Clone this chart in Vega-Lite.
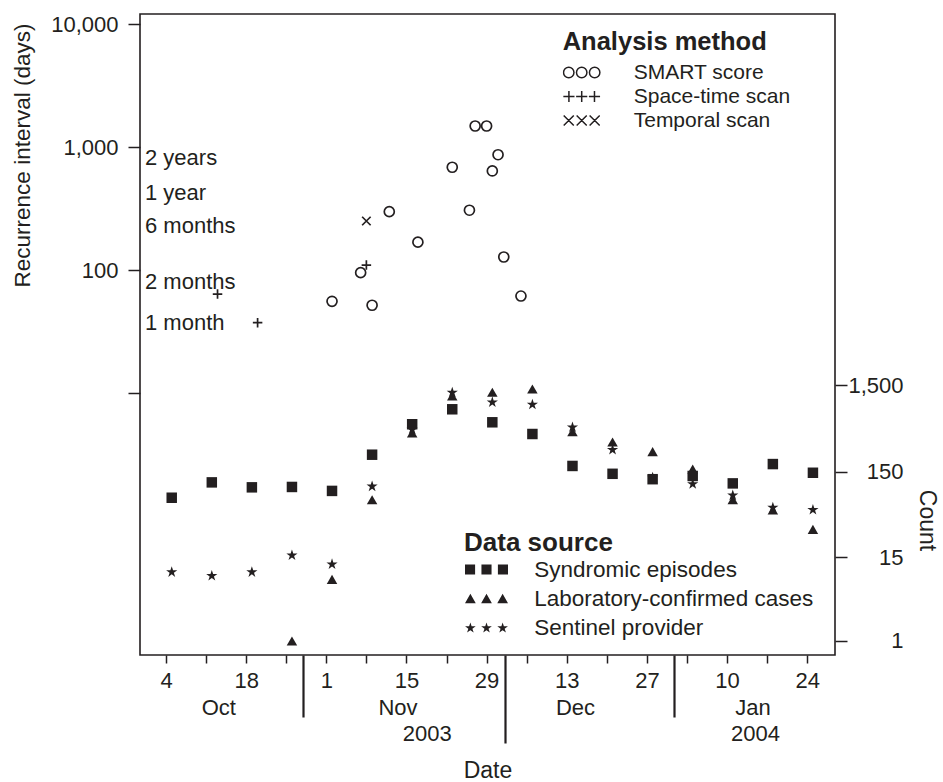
{
  "$schema": "https://vega.github.io/schema/vega-lite/v6.json",
  "width": 695,
  "height": 641,
  "autosize": {"type": "none"},
  "padding": {"left": 140, "top": 14, "right": 108, "bottom": 127},
  "background": "white",
  "config": {
    "view": {"stroke": "#231f20", "strokeWidth": 1.6},
    "font": "Liberation Sans",
    "axis": {"labelFont": "Liberation Sans", "titleFont": "Liberation Sans", "labelColor": "#231f20", "titleColor": "#231f20", "tickColor": "#231f20", "titleFontWeight": "normal", "grid": false, "domain": false},
    "legend": {"labelFont": "Liberation Sans", "titleFont": "Liberation Sans", "labelColor": "#231f20", "titleColor": "#231f20"}
  },
  "datasets": {
    "methods": [
      {"date": "2003-10-13", "method": "Space-time scan", "days": 64},
      {"date": "2003-10-20", "method": "Space-time scan", "days": 37.5},
      {"date": "2003-11-02", "method": "SMART score", "days": 55.9},
      {"date": "2003-11-07", "method": "SMART score", "days": 95.5},
      {"date": "2003-11-08", "method": "Space-time scan", "days": 110},
      {"date": "2003-11-08", "method": "Temporal scan", "days": 251},
      {"date": "2003-11-09", "method": "SMART score", "days": 51.9},
      {"date": "2003-11-12", "method": "SMART score", "days": 299},
      {"date": "2003-11-17", "method": "SMART score", "days": 169},
      {"date": "2003-11-23", "method": "SMART score", "days": 686},
      {"date": "2003-11-26", "method": "SMART score", "days": 307},
      {"date": "2003-11-27", "method": "SMART score", "days": 1484},
      {"date": "2003-11-29", "method": "SMART score", "days": 1484},
      {"date": "2003-11-30", "method": "SMART score", "days": 640},
      {"date": "2003-12-01", "method": "SMART score", "days": 867},
      {"date": "2003-12-02", "method": "SMART score", "days": 128},
      {"date": "2003-12-05", "method": "SMART score", "days": 61.7}
    ],
    "intervals": [
      {"label": "2 years", "days": 709},
      {"label": "1 year", "days": 375},
      {"label": "6 months", "days": 202},
      {"label": "2 months", "days": 71},
      {"label": "1 month", "days": 32.7}
    ],
    "sources": [
      {"date": "2003-10-05", "source": "Sentinel provider", "count": 10},
      {"date": "2003-10-12", "source": "Sentinel provider", "count": 9},
      {"date": "2003-10-19", "source": "Sentinel provider", "count": 10},
      {"date": "2003-10-26", "source": "Sentinel provider", "count": 16},
      {"date": "2003-11-02", "source": "Sentinel provider", "count": 12.5},
      {"date": "2003-11-09", "source": "Sentinel provider", "count": 103},
      {"date": "2003-11-16", "source": "Sentinel provider", "count": 467},
      {"date": "2003-11-23", "source": "Sentinel provider", "count": 1247},
      {"date": "2003-11-30", "source": "Sentinel provider", "count": 964},
      {"date": "2003-12-07", "source": "Sentinel provider", "count": 907},
      {"date": "2003-12-14", "source": "Sentinel provider", "count": 496},
      {"date": "2003-12-21", "source": "Sentinel provider", "count": 273},
      {"date": "2003-12-28", "source": "Sentinel provider", "count": 130},
      {"date": "2004-01-04", "source": "Sentinel provider", "count": 110},
      {"date": "2004-01-11", "source": "Sentinel provider", "count": 81},
      {"date": "2004-01-18", "source": "Sentinel provider", "count": 58.5},
      {"date": "2004-01-25", "source": "Sentinel provider", "count": 55},
      {"date": "2003-10-26", "source": "Laboratory-confirmed cases", "count": 1},
      {"date": "2003-11-02", "source": "Laboratory-confirmed cases", "count": 8},
      {"date": "2003-11-09", "source": "Laboratory-confirmed cases", "count": 71},
      {"date": "2003-11-16", "source": "Laboratory-confirmed cases", "count": 420},
      {"date": "2003-11-23", "source": "Laboratory-confirmed cases", "count": 1122},
      {"date": "2003-11-30", "source": "Laboratory-confirmed cases", "count": 1237},
      {"date": "2003-12-07", "source": "Laboratory-confirmed cases", "count": 1350},
      {"date": "2003-12-14", "source": "Laboratory-confirmed cases", "count": 435},
      {"date": "2003-12-21", "source": "Laboratory-confirmed cases", "count": 331},
      {"date": "2003-12-28", "source": "Laboratory-confirmed cases", "count": 256},
      {"date": "2004-01-04", "source": "Laboratory-confirmed cases", "count": 161},
      {"date": "2004-01-11", "source": "Laboratory-confirmed cases", "count": 71},
      {"date": "2004-01-18", "source": "Laboratory-confirmed cases", "count": 54},
      {"date": "2004-01-25", "source": "Laboratory-confirmed cases", "count": 32},
      {"date": "2003-10-05", "source": "Syndromic episodes", "count": 75},
      {"date": "2003-10-12", "source": "Syndromic episodes", "count": 113},
      {"date": "2003-10-19", "source": "Syndromic episodes", "count": 99},
      {"date": "2003-10-26", "source": "Syndromic episodes", "count": 100},
      {"date": "2003-11-02", "source": "Syndromic episodes", "count": 90},
      {"date": "2003-11-09", "source": "Syndromic episodes", "count": 236},
      {"date": "2003-11-16", "source": "Syndromic episodes", "count": 530},
      {"date": "2003-11-23", "source": "Syndromic episodes", "count": 788},
      {"date": "2003-11-30", "source": "Syndromic episodes", "count": 558},
      {"date": "2003-12-07", "source": "Syndromic episodes", "count": 409},
      {"date": "2003-12-14", "source": "Syndromic episodes", "count": 175},
      {"date": "2003-12-21", "source": "Syndromic episodes", "count": 142},
      {"date": "2003-12-28", "source": "Syndromic episodes", "count": 123},
      {"date": "2004-01-04", "source": "Syndromic episodes", "count": 134},
      {"date": "2004-01-11", "source": "Syndromic episodes", "count": 110},
      {"date": "2004-01-18", "source": "Syndromic episodes", "count": 184},
      {"date": "2004-01-25", "source": "Syndromic episodes", "count": 146}
    ]
  },
  "layer": [
    {
      "data": {"name": "methods"},
      "mark": {"type": "point", "filled": false, "opacity": 1, "size": 100, "strokeWidth": 1.7, "color": "#231f20"},
      "encoding": {
        "x": {
          "field": "date", "type": "temporal",
          "scale": {"type": "utc", "domain": [{"year": 2003, "month": 9, "date": 29, "hours": 11, "utc": true}, {"year": 2004, "month": 1, "date": 28, "hours": 20, "minutes": 32, "utc": true}]},
          "axis": {
            "orient": "bottom", "title": null, "domain": false, "grid": false,
            "values": [
              {"year": 2003, "month": 10, "date": 4, "utc": true},
              {"year": 2003, "month": 10, "date": 11, "utc": true},
              {"year": 2003, "month": 10, "date": 18, "utc": true},
              {"year": 2003, "month": 10, "date": 25, "utc": true},
              {"year": 2003, "month": 10, "date": 27, "hours": 21, "minutes": 7, "utc": true},
              {"year": 2003, "month": 11, "date": 1, "utc": true},
              {"year": 2003, "month": 11, "date": 8, "utc": true},
              {"year": 2003, "month": 11, "date": 15, "utc": true},
              {"year": 2003, "month": 11, "date": 22, "utc": true},
              {"year": 2003, "month": 11, "date": 29, "utc": true},
              {"year": 2003, "month": 12, "date": 6, "utc": true},
              {"year": 2003, "month": 12, "date": 13, "utc": true},
              {"year": 2003, "month": 12, "date": 20, "utc": true},
              {"year": 2003, "month": 12, "date": 27, "utc": true},
              {"year": 2003, "month": 12, "date": 31, "hours": 15, "minutes": 36, "utc": true},
              {"year": 2004, "month": 1, "date": 3, "utc": true},
              {"year": 2004, "month": 1, "date": 10, "utc": true},
              {"year": 2004, "month": 1, "date": 17, "utc": true},
              {"year": 2004, "month": 1, "date": 24, "utc": true}
            ],
            "tickSize": {"condition": {"test": "utchours(datum.value) > 0", "value": 62}, "value": 8},
            "tickWidth": {"condition": {"test": "utchours(datum.value) > 0", "value": 2.2}, "value": 1.5},
            "labelExpr": "utchours(datum.value) > 0 ? '' : (round((datum.value - utc(2003, 9, 4)) / 604800000) % 2 == 0 ? utcFormat(datum.value, '%-d') : '')",
            "labelFontSize": 22, "labelPadding": 7, "labelBaseline": "top", "labelOverlap": false, "labelFlush": false
          }
        },
        "y": {
          "field": "days", "type": "quantitative",
          "scale": {"type": "log", "domain": [0.07482, 12057], "nice": false, "zero": false},
          "axis": {
            "orient": "left", "title": "Recurrence interval (days)", "values": [10, 100, 1000, 10000],
            "labelExpr": "datum.value < 50 ? '' : format(datum.value, ',')",
            "tickSize": 12, "tickWidth": 1.5, "labelPadding": 10, "labelFontSize": 22,
            "labelOverlap": false, "labelFlush": false,
            "titleFontSize": 22.5, "titleX": -117.5, "titleY": 141, "titleAngle": -90, "titleBaseline": "middle", "titleAlign": "center"
          }
        },
        "shape": {
          "field": "method", "type": "nominal",
          "scale": {"domain": ["SMART score", "Space-time scan", "Temporal scan"], "range": ["circle", "M-0.95 0L0.95 0M0 -0.95L0 0.95", "M-0.85 -0.85L0.85 0.85M-0.85 0.85L0.85 -0.85"]},
          "legend": null
        }
      }
    },
    {
      "data": {"name": "intervals"},
      "mark": {"type": "text", "align": "left", "baseline": "alphabetic", "dx": 5, "fontSize": 22, "font": "Liberation Sans", "color": "#231f20"},
      "encoding": {
        "x": {
          "datum": {"year": 2003, "month": 9, "date": 29, "hours": 11, "utc": true}, "type": "temporal",
          "scale": {"type": "utc", "domain": [{"year": 2003, "month": 9, "date": 29, "hours": 11, "utc": true}, {"year": 2004, "month": 1, "date": 28, "hours": 20, "minutes": 32, "utc": true}]},
          "axis": {
            "orient": "bottom", "title": null, "domain": false, "grid": false, "ticks": false, "tickSize": 0,
            "values": [
              {"year": 2003, "month": 10, "date": 13, "hours": 3, "minutes": 14, "utc": true},
              {"year": 2003, "month": 11, "date": 13, "hours": 10, "minutes": 34, "utc": true},
              {"year": 2003, "month": 12, "date": 14, "hours": 10, "minutes": 34, "utc": true},
              {"year": 2004, "month": 1, "date": 14, "hours": 10, "minutes": 48, "utc": true}
            ],
            "labelExpr": "utcFormat(datum.value, '%b')",
            "labelFontSize": 22, "labelPadding": 42.5, "labelBaseline": "top", "labelOverlap": false, "labelFlush": false
          }
        },
        "y": {
          "field": "days", "type": "quantitative",
          "scale": {"type": "log", "domain": [0.07482, 12057], "nice": false, "zero": false},
          "axis": null
        },
        "text": {"field": "label"}
      }
    },
    {
      "data": {"name": "sources"},
      "mark": {"type": "point", "filled": true, "opacity": 1, "size": 110, "strokeWidth": 0, "color": "#231f20"},
      "encoding": {
        "x": {
          "field": "date", "type": "temporal",
          "scale": {"type": "utc", "domain": [{"year": 2003, "month": 9, "date": 29, "hours": 11, "utc": true}, {"year": 2004, "month": 1, "date": 28, "hours": 20, "minutes": 32, "utc": true}]},
          "axis": {
            "orient": "bottom", "title": "Date", "domain": false, "grid": false,
            "values": [
              {"year": 2003, "month": 11, "date": 18, "hours": 13, "utc": true},
              {"year": 2003, "month": 12, "date": 2, "hours": 5, "minutes": 2, "utc": true},
              {"year": 2004, "month": 1, "date": 14, "hours": 21, "minutes": 7, "utc": true}
            ],
            "tickSize": {"condition": {"test": "utcmonth(datum.value) == 11 && utcdate(datum.value) == 2", "value": 88}, "value": 0},
            "tickWidth": 2.2,
            "labelExpr": "utcmonth(datum.value) == 11 && utcdate(datum.value) == 2 ? '' : utcFormat(datum.value, '%Y')",
            "labelFontSize": 22, "labelPadding": 68.5, "labelBaseline": "top", "labelOverlap": false, "labelFlush": false,
            "titleFontSize": 23, "titleY": 122, "titleBaseline": "alphabetic"
          }
        },
        "y": {
          "field": "count", "type": "quantitative",
          "scale": {"type": "symlog", "constant": 0.7, "domain": [0.4731, 27900000], "nice": false, "zero": false},
          "axis": {
            "orient": "right", "title": "Count", "values": [1, 15, 150, 1500],
            "labelExpr": "format(datum.value, ',')",
            "tickSize": 12, "tickWidth": 1.5, "labelAlign": "right", "labelPadding": 56, "labelFontSize": 22, "labelBaseline": "middle",
            "labelOverlap": false, "labelFlush": false,
            "titleFontSize": 23, "titleX": 91, "titleY": 506, "titleAngle": 90, "titleBaseline": "middle", "titleAlign": "center"
          }
        },
        "shape": {
          "field": "source", "type": "nominal",
          "scale": {"domain": ["Syndromic episodes", "Laboratory-confirmed cases", "Sentinel provider"], "range": ["square", "triangle-up", "M0 -1.014L0.2514 -0.24L1.065 -0.24L0.4069 0.2386L0.6583 1.0125L0 0.5342L-0.6583 1.0125L-0.4069 0.2386L-1.065 -0.24L-0.2514 -0.24Z"]},
          "legend": null
        }
      }
    },
    {
      "data": {"name": "methods"},
      "transform": [{"filter": "false"}],
      "mark": {"type": "point", "filled": false, "opacity": 1, "strokeWidth": 1.5, "color": "#231f20"},
      "encoding": {
        "shape": {
          "field": "method", "type": "nominal",
          "scale": {"domain": ["SMART score", "Space-time scan", "Temporal scan"], "range": [
            "M-0.43 0A0.29 0.29 0 1 1 -1.01 0A0.29 0.29 0 1 1 -0.43 0ZM0.29 0A0.29 0.29 0 1 1 -0.29 0A0.29 0.29 0 1 1 0.29 0ZM1.01 0A0.29 0.29 0 1 1 0.43 0A0.29 0.29 0 1 1 1.01 0Z",
            "M-1.02 0H-0.4M-0.71 -0.31V0.31M-0.31 0H0.31M0 -0.31V0.31M0.4 0H1.02M0.71 -0.31V0.31",
            "M-1 -0.28L-0.44 0.28M-1 0.28L-0.44 -0.28M-0.28 -0.28L0.28 0.28M-0.28 0.28L0.28 -0.28M0.44 -0.28L1 0.28M0.44 0.28L1 -0.28"
          ]},
          "legend": {
            "title": "Analysis method", "orient": "none", "legendX": 422.7, "legendY": 15.5, "padding": 0,
            "titleFontSize": 25.5, "titleFontWeight": "bold", "titlePadding": 7, "titleLimit": 600,
            "labelFontSize": 21, "labelLimit": 600, "labelOffset": 33,
            "symbolSize": 1296, "symbolStrokeWidth": 1.5, "symbolOpacity": 1, "clipHeight": 21, "rowPadding": 2
          }
        }
      }
    },
    {
      "data": {"name": "sources"},
      "transform": [{"filter": "false"}],
      "mark": {"type": "point", "filled": true, "opacity": 1, "strokeWidth": 0, "color": "#231f20"},
      "encoding": {
        "shape": {
          "field": "source", "type": "nominal",
          "scale": {"domain": ["Syndromic episodes", "Laboratory-confirmed cases", "Sentinel provider"], "range": [
            "M-1 -0.235H-0.53V0.235H-1ZM-0.235 -0.235H0.235V0.235H-0.235ZM0.53 -0.235H1V0.235H0.53Z",
            "M-0.75 -0.22L-0.5 0.22L-1 0.22ZM0 -0.22L0.25 0.22L-0.25 0.22ZM0.75 -0.22L1 0.22L0.5 0.22Z",
            "M-0.75 -0.235L-0.6916 -0.0554L-0.5028 -0.0554L-0.6556 0.0557L-0.5972 0.2354L-0.75 0.1243L-0.9028 0.2354L-0.8444 0.0557L-0.9972 -0.0554L-0.8084 -0.0554ZM0 -0.235L0.0584 -0.0554L0.2472 -0.0554L0.0944 0.0557L0.1528 0.2354L0 0.1243L-0.1528 0.2354L-0.0944 0.0557L-0.2472 -0.0554L-0.0584 -0.0554ZM0.75 -0.235L0.8084 -0.0554L0.9972 -0.0554L0.8444 0.0557L0.9028 0.2354L0.75 0.1243L0.5972 0.2354L0.6556 0.0557L0.5028 -0.0554L0.6916 -0.0554Z"
          ]},
          "legend": {
            "title": "Data source", "orient": "none", "legendX": 324, "legendY": 515.5, "padding": 0,
            "titleFontSize": 26, "titleFontWeight": "bold", "titlePadding": 3, "titleLimit": 600,
            "labelFontSize": 22.5, "labelLimit": 600, "labelOffset": 25.3,
            "symbolSize": 1849, "symbolOpacity": 1, "clipHeight": 22, "rowPadding": 6
          }
        }
      }
    }
  ],
  "resolve": {
    "scale": {"y": "independent", "shape": "independent"},
    "axis": {"x": "independent", "y": "independent"}
  }
}
